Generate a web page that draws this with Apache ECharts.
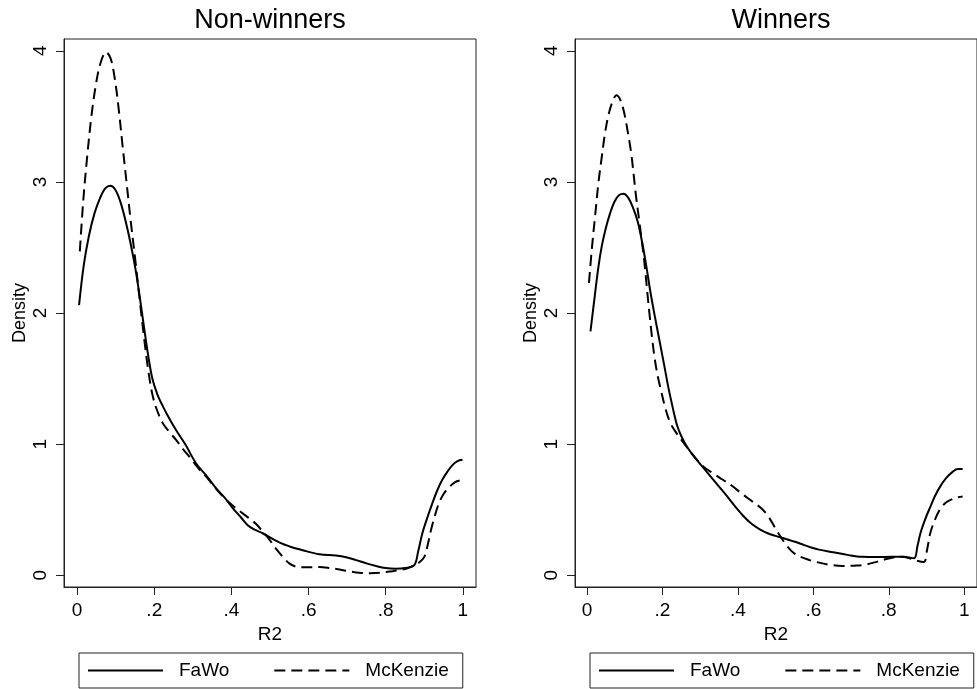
<!DOCTYPE html>
<html>
<head>
<meta charset="utf-8">
<script src="https://cdn.jsdelivr.net/npm/echarts@6/dist/echarts.min.js"></script>
<style>
html,body{margin:0;padding:0;background:#fff;}
#chart{width:977px;height:689px;}
</style>
</head>
<body>
<div id="chart"></div>
<script>
// ---- Data ----
const panelTitles = ['Non-winners', 'Winners'];
const seriesNames = ['FaWo', 'McKenzie'];
const xTicks = [0, 0.2, 0.4, 0.6, 0.8, 1];
const xTickLabels = ['0', '.2', '.4', '.6', '.8', '1'];
const yTicks = [0, 1, 2, 3, 4];
const yTickLabels = ['0', '1', '2', '3', '4'];

// Non-winners, FaWo
const nwFawoX = [0.005, 0.017, 0.030, 0.045, 0.060, 0.073, 0.086, 0.099, 0.112, 0.125, 0.138, 0.151, 0.162, 0.173, 0.184, 0.195, 0.208, 0.222, 0.240, 0.260, 0.280, 0.309, 0.335, 0.361, 0.383, 0.404, 0.425, 0.443, 0.462, 0.481, 0.524, 0.555, 0.585, 0.628, 0.671, 0.700, 0.723, 0.750, 0.775, 0.800, 0.826, 0.850, 0.874, 0.884, 0.895, 0.908, 0.921, 0.934, 0.947, 0.960, 0.973, 0.986, 0.999];
const nwFawoY = [2.06, 2.36, 2.58, 2.76, 2.88, 2.95, 2.97, 2.94, 2.85, 2.71, 2.54, 2.34, 2.13, 1.90, 1.68, 1.50, 1.38, 1.29, 1.19, 1.09, 1.00, 0.85, 0.76, 0.66, 0.59, 0.51, 0.44, 0.38, 0.345, 0.32, 0.25, 0.215, 0.19, 0.16, 0.15, 0.135, 0.115, 0.09, 0.07, 0.055, 0.05, 0.055, 0.076, 0.18, 0.32, 0.44, 0.55, 0.65, 0.73, 0.79, 0.84, 0.87, 0.88];
// Non-winners, McKenzie
const nwMckX = [0.007, 0.016, 0.026, 0.037, 0.048, 0.060, 0.075, 0.087, 0.098, 0.108, 0.118, 0.128, 0.139, 0.151, 0.163, 0.174, 0.184, 0.195, 0.207, 0.222, 0.240, 0.257, 0.275, 0.292, 0.313, 0.335, 0.357, 0.378, 0.404, 0.430, 0.448, 0.464, 0.482, 0.499, 0.516, 0.533, 0.550, 0.566, 0.590, 0.628, 0.655, 0.680, 0.705, 0.731, 0.760, 0.783, 0.810, 0.835, 0.856, 0.874, 0.888, 0.900, 0.908, 0.917, 0.927, 0.938, 0.950, 0.964, 0.980, 0.995];
const nwMckY = [2.47, 2.86, 3.19, 3.50, 3.73, 3.90, 3.99, 3.94, 3.78, 3.55, 3.27, 3.00, 2.70, 2.40, 2.08, 1.80, 1.57, 1.38, 1.26, 1.16, 1.09, 1.03, 0.96, 0.90, 0.82, 0.75, 0.67, 0.60, 0.53, 0.47, 0.43, 0.39, 0.33, 0.27, 0.20, 0.14, 0.09, 0.066, 0.06, 0.063, 0.055, 0.043, 0.03, 0.018, 0.015, 0.018, 0.028, 0.038, 0.052, 0.076, 0.10, 0.14, 0.22, 0.34, 0.45, 0.55, 0.62, 0.67, 0.71, 0.725];
// Winners, FaWo
const wFawoX = [0.009, 0.020, 0.030, 0.039, 0.050, 0.061, 0.073, 0.085, 0.097, 0.109, 0.121, 0.134, 0.146, 0.157, 0.168, 0.180, 0.192, 0.204, 0.215, 0.227, 0.238, 0.250, 0.265, 0.285, 0.308, 0.330, 0.350, 0.372, 0.394, 0.415, 0.437, 0.458, 0.479, 0.500, 0.523, 0.545, 0.566, 0.590, 0.615, 0.652, 0.690, 0.729, 0.770, 0.806, 0.840, 0.867, 0.876, 0.884, 0.897, 0.910, 0.922, 0.935, 0.952, 0.970, 0.983, 0.996];
const wFawoY = [1.86, 2.12, 2.35, 2.51, 2.65, 2.76, 2.85, 2.90, 2.91, 2.88, 2.81, 2.70, 2.54, 2.36, 2.16, 1.97, 1.79, 1.61, 1.44, 1.28, 1.15, 1.06, 0.98, 0.90, 0.82, 0.745, 0.675, 0.60, 0.52, 0.45, 0.39, 0.35, 0.32, 0.30, 0.28, 0.26, 0.24, 0.215, 0.195, 0.175, 0.155, 0.14, 0.138, 0.14, 0.14, 0.13, 0.22, 0.32, 0.43, 0.52, 0.60, 0.67, 0.74, 0.79, 0.81, 0.81];
// Winners, McKenzie
const wMckX = [0.005, 0.013, 0.022, 0.030, 0.039, 0.047, 0.056, 0.067, 0.078, 0.089, 0.099, 0.108, 0.117, 0.123, 0.129, 0.138, 0.147, 0.154, 0.160, 0.166, 0.172, 0.180, 0.188, 0.196, 0.208, 0.221, 0.238, 0.256, 0.280, 0.308, 0.335, 0.359, 0.385, 0.411, 0.437, 0.462, 0.480, 0.497, 0.514, 0.531, 0.548, 0.566, 0.590, 0.609, 0.643, 0.677, 0.710, 0.738, 0.765, 0.789, 0.812, 0.832, 0.855, 0.875, 0.893, 0.902, 0.910, 0.922, 0.935, 0.948, 0.961, 0.978, 0.996];
const wMckY = [2.23, 2.50, 2.76, 2.99, 3.19, 3.36, 3.50, 3.61, 3.66, 3.62, 3.52, 3.38, 3.22, 3.07, 2.91, 2.71, 2.51, 2.33, 2.15, 1.98, 1.82, 1.64, 1.51, 1.41, 1.27, 1.16, 1.08, 1.01, 0.92, 0.83, 0.775, 0.73, 0.68, 0.62, 0.565, 0.51, 0.45, 0.37, 0.29, 0.22, 0.17, 0.14, 0.115, 0.10, 0.08, 0.071, 0.073, 0.08, 0.10, 0.12, 0.135, 0.14, 0.13, 0.11, 0.10, 0.20, 0.32, 0.42, 0.50, 0.545, 0.57, 0.59, 0.60];

// ---- Build ----
const FONT = 'Liberation Sans, Arial, sans-serif';
const INK = '#000';
const FRAME = '#222';
const pairs = (xs, ys) => xs.map((x, i) => [x, ys[i]]);

const grids = [
  { left: 64, top: 39, width: 412, height: 548 },
  { left: 575, top: 39, width: 413, height: 548 }
];
const xRanges = [[-0.034, 1.034], [-0.032, 1.034]];

function xAxis(i) {
  return {
    type: 'value', gridIndex: i, min: xRanges[i][0], max: xRanges[i][1],
    name: 'R2', nameLocation: 'middle', nameGap: 32,
    nameTextStyle: { fontFamily: FONT, fontSize: 19, color: INK },
    axisLine: { show: true, onZero: false, lineStyle: { color: FRAME, width: 1 } },
    axisTick: { show: true, length: 8, customValues: xTicks, lineStyle: { color: FRAME, width: 1 } },
    axisLabel: {
      show: true, customValues: xTicks, margin: 14,
      fontFamily: FONT, fontSize: 19, color: INK,
      formatter: v => { const k = xTicks.findIndex(t => Math.abs(t - v) < 1e-9); return k >= 0 ? xTickLabels[k] : ''; }
    },
    splitLine: { show: false }
  };
}
function yAxis(i) {
  return {
    type: 'value', gridIndex: i, min: -0.09, max: 4.09,
    name: 'Density', nameLocation: 'middle', nameGap: 35, nameRotate: 90,
    nameTextStyle: { fontFamily: FONT, fontSize: 18, color: INK },
    axisLine: { show: true, onZero: false, lineStyle: { color: FRAME, width: 1 } },
    axisTick: { show: true, length: 8, customValues: yTicks, lineStyle: { color: FRAME, width: 1 } },
    axisLabel: {
      show: true, customValues: yTicks, rotate: 90, margin: 14,
      fontFamily: FONT, fontSize: 19, color: INK,
      formatter: v => { const k = yTicks.findIndex(t => Math.abs(t - v) < 1e-9); return k >= 0 ? yTickLabels[k] : ''; }
    },
    splitLine: { show: false }
  };
}
function lineSeries(name, i, data, dashed) {
  return {
    name: name, type: 'line', xAxisIndex: i, yAxisIndex: i,
    data: data, symbol: 'none', showSymbol: false,
    smooth: 0.35,
    lineStyle: { color: INK, width: 2, type: dashed ? [11, 6] : 'solid' },
    itemStyle: { color: INK },
    emphasis: { disabled: true }, silent: true
  };
}
function legend(left) {
  return {
    left: left, top: 653, orient: 'horizontal',
    data: seriesNames, itemWidth: 75, itemHeight: 16, itemGap: 44,
    padding: [8, 14, 8, 8], borderColor: FRAME, borderWidth: 1,
    selectedMode: false,
    itemStyle: { opacity: 0 },
    textStyle: { fontFamily: FONT, fontSize: 19, color: INK, padding: [0, 0, 0, 11] }
  };
}

const option = {
  animation: false,
  backgroundColor: '#fff',
  title: [
    { text: panelTitles[0], left: 270, top: 7, textAlign: 'center', padding: 0,
      textStyle: { fontFamily: FONT, fontSize: 27, fontWeight: 'normal', color: INK } },
    { text: panelTitles[1], left: 781, top: 7, textAlign: 'center', padding: 0,
      textStyle: { fontFamily: FONT, fontSize: 27, fontWeight: 'normal', color: INK } }
  ],
  grid: grids.map(g => Object.assign({ show: true, borderColor: FRAME, borderWidth: 1, backgroundColor: 'transparent' }, g)),
  xAxis: [xAxis(0), xAxis(1)],
  yAxis: [yAxis(0), yAxis(1)],
  legend: [legend(79), legend(590)],
  series: [
    lineSeries(seriesNames[0], 0, pairs(nwFawoX, nwFawoY), false),
    lineSeries(seriesNames[1], 0, pairs(nwMckX, nwMckY), true),
    lineSeries(seriesNames[0], 1, pairs(wFawoX, wFawoY), false),
    lineSeries(seriesNames[1], 1, pairs(wMckX, wMckY), true)
  ]
};

const chart = echarts.init(document.getElementById('chart'), null, { renderer: 'canvas' });
chart.setOption(option);
</script>
</body>
</html>
